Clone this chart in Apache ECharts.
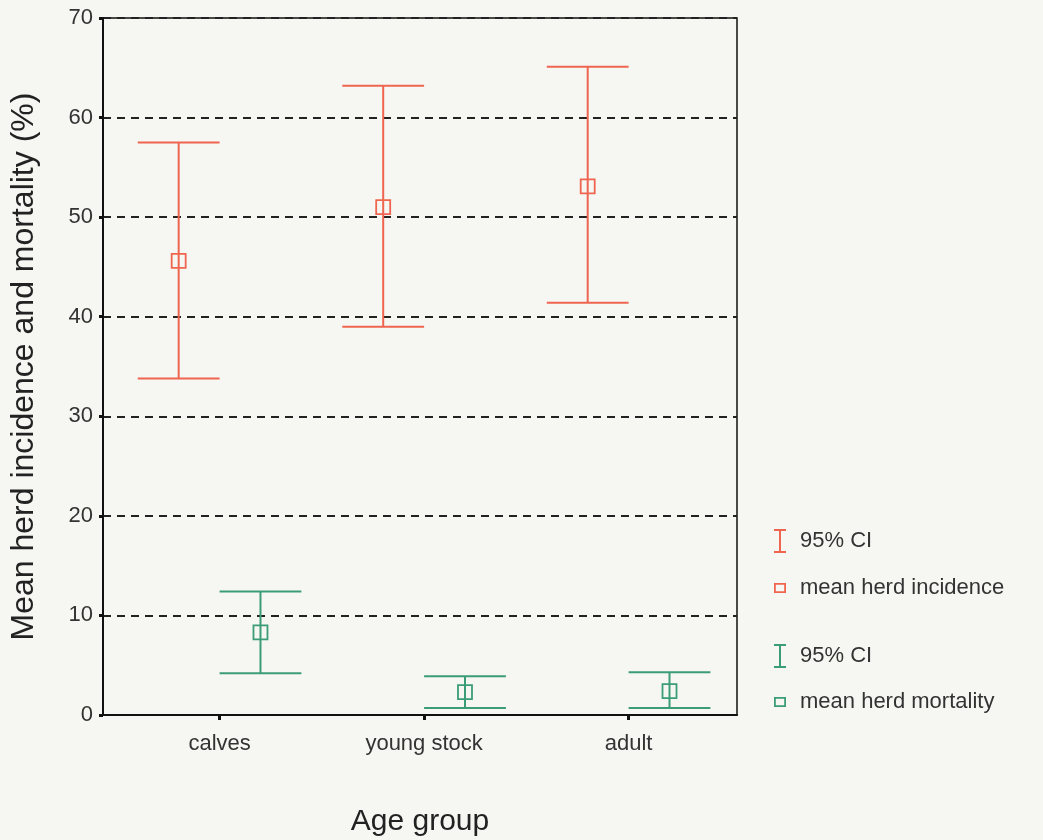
<!DOCTYPE html>
<html>
<head>
<meta charset="utf-8">
<script src="https://cdn.jsdelivr.net/npm/echarts@6/dist/echarts.min.js"></script>
<style>html,body{margin:0;padding:0;background:#f6f6f3;}#c{width:1043px;height:840px;}</style>
</head>
<body>
<div id="c"></div>
<script>
const categories = ['calves', 'young stock', 'adult'];
const yTicks = [0, 10, 20, 30, 40, 50, 60, 70];
const incidenceMean = [45.6, 51.0, 53.1];
const incidenceLow  = [33.8, 39.0, 41.4];
const incidenceHigh = [57.5, 63.2, 65.1];
const mortalityMean = [8.3, 2.3, 2.4];
const mortalityLow  = [4.2, 0.7, 0.7];
const mortalityHigh = [12.4, 3.9, 4.3];

const RED = '#ef654f';
const GREEN = '#3b9d77';
const OFF = 0.2;
const FONT = 'Liberation Sans, Arial, sans-serif';

const redCI = categories.map((c, i) => [i + 1 - OFF, incidenceLow[i], incidenceHigh[i]]);
const greenCI = categories.map((c, i) => [i + 1 + OFF, mortalityLow[i], mortalityHigh[i]]);
const redMean = categories.map((c, i) => [i + 1 - OFF, incidenceMean[i]]);
const greenMean = categories.map((c, i) => [i + 1 + OFF, mortalityMean[i]]);

function ciRender(color) {
  return function (params, api) {
    const x = api.value(0);
    const lo = api.coord([x, api.value(1)]);
    const hi = api.coord([x, api.value(2)]);
    const hw = api.size([OFF, 0])[0];
    const st = { stroke: color, lineWidth: 2 };
    return {
      type: 'group',
      children: [
        { type: 'line', shape: { x1: hi[0], y1: hi[1], x2: lo[0], y2: lo[1] }, style: st },
        { type: 'line', shape: { x1: hi[0] - hw, y1: hi[1], x2: hi[0] + hw, y2: hi[1] }, style: st },
        { type: 'line', shape: { x1: lo[0] - hw, y1: lo[1], x2: lo[0] + hw, y2: lo[1] }, style: st }
      ]
    };
  };
}

const IBEAM = 'path://M0,0H12V2H7V22H12V24H0V22H5V2H0Z';
const SQUARE = 'path://M0,0H12V10H0Z M1.8,1.8V8.2H10.2V1.8Z';

function leg(name, top, icon, w, h, color) {
  return {
    data: [{ name: name, icon: icon }],
    left: 769, top: top, itemWidth: w, itemHeight: h,
    itemStyle: { color: color, borderWidth: 0 },
    selectedMode: false,
    textStyle: { fontFamily: FONT, fontSize: 22, color: '#333', padding: [0, 0, 0, 9] }
  };
}

const chart = echarts.init(document.getElementById('c'));
chart.setOption({
  backgroundColor: '#f6f6f3',
  animation: false,
  grid: { left: 103, right: 306, top: 18, bottom: 125, outerBoundsMode: 'none', containLabel: false,
    show: true, borderColor: '#111', borderWidth: 1.5, backgroundColor: 'transparent' },
  legend: [
    leg('95% CI', 524, IBEAM, 12, 24, RED),
    leg('mean herd incidence', 572, SQUARE, 12, 10, RED),
    leg('95% CI ', 639, IBEAM, 12, 24, GREEN),
    leg('mean herd mortality', 686, SQUARE, 12, 10, GREEN)
  ],
  xAxis: {
    type: 'value', min: 0.43, max: 3.53,
    name: 'Age group', nameLocation: 'middle', nameGap: 92,
    nameTextStyle: { fontFamily: FONT, fontSize: 30, color: '#222' },
    axisLine: { show: true, lineStyle: { color: '#111', width: 2 } },
    axisTick: { show: true, length: 5, customValues: [1, 2, 3], lineStyle: { color: '#111', width: 3 } },
    axisLabel: { customValues: [1, 2, 3], margin: 18, fontFamily: FONT, fontSize: 22, color: '#333',
      formatter: v => categories[Math.round(v) - 1] },
    splitLine: { show: false }
  },
  yAxis: {
    type: 'value', min: yTicks[0], max: yTicks[yTicks.length - 1], interval: 10,
    name: 'Mean herd incidence and mortality (%)', nameLocation: 'middle', nameGap: 63,
    nameTextStyle: { fontFamily: FONT, fontSize: 32, color: '#222' },
    axisLine: { show: true, lineStyle: { color: '#111', width: 2 } },
    axisTick: { show: true, length: 4, lineStyle: { color: '#111', width: 3 } },
    axisLabel: { margin: 10, fontFamily: FONT, fontSize: 22, color: '#333',
      formatter: v => String(yTicks[Math.round(v / 10)]) },
    splitLine: { show: true, lineStyle: { color: '#222', width: 2, type: [8, 6] } }
  },
  series: [
    { name: '95% CI', type: 'custom', renderItem: ciRender(RED), data: redCI, encode: { x: 0, y: [1, 2] }, z: 3 },
    { name: 'mean herd incidence', type: 'scatter', data: redMean, symbol: 'rect', symbolSize: [14, 14],
      itemStyle: { color: 'rgba(0,0,0,0)', borderColor: RED, borderWidth: 1.8, opacity: 1 }, z: 4 },
    { name: '95% CI ', type: 'custom', renderItem: ciRender(GREEN), data: greenCI, encode: { x: 0, y: [1, 2] }, z: 3 },
    { name: 'mean herd mortality', type: 'scatter', data: greenMean, symbol: 'rect', symbolSize: [14, 14],
      itemStyle: { color: 'rgba(0,0,0,0)', borderColor: GREEN, borderWidth: 1.8, opacity: 1 }, z: 4 }
  ]
});
</script>
</body>
</html>
